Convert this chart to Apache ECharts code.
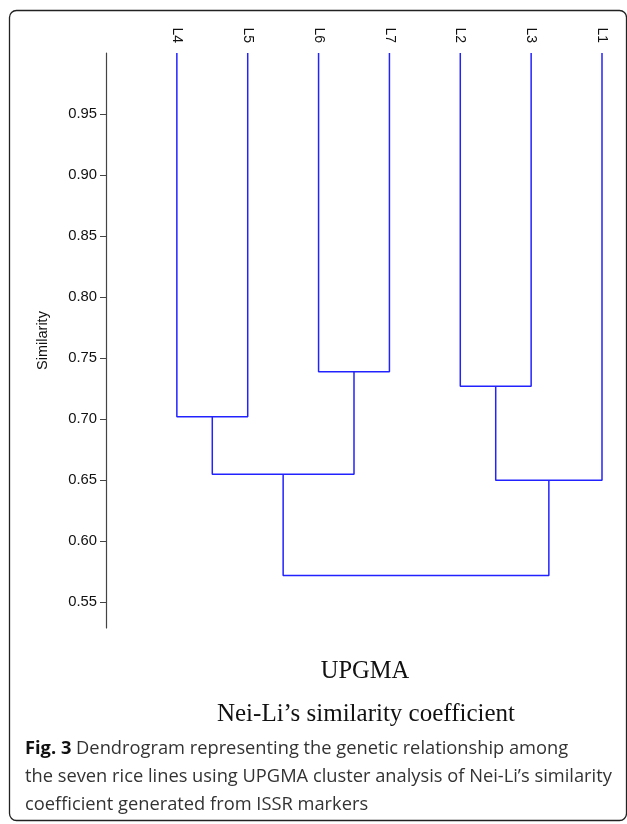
<!DOCTYPE html>
<html>
<head>
<meta charset="utf-8">
<script src="https://cdn.jsdelivr.net/npm/echarts@6/dist/echarts.min.js"></script>
<style>
html,body{margin:0;padding:0;background:#fff;}
#chart{width:627px;height:824px;}
</style>
</head>
<body>
<div id="chart"></div>
<script>
// Leaf order along the dendrogram
const leaves = ['L4', 'L5', 'L6', 'L7', 'L2', 'L3', 'L1'];
const leafSimilarity = 1.0;
// UPGMA merges (left child, right child, resulting node, similarity)
const mergeLeft = ['L4', 'L6', 'L2', 'N1', 'N3', 'N4'];
const mergeRight = ['L5', 'L7', 'L3', 'N2', 'L1', 'N5'];
const mergeNames = ['N1', 'N2', 'N3', 'N4', 'N5', 'N6'];
const mergeSimilarity = [0.702, 0.739, 0.727, 0.655, 0.650, 0.572];
// Axis ticks
const yTicks = [0.55, 0.60, 0.65, 0.70, 0.75, 0.80, 0.85, 0.90, 0.95];
const yMin = 0.529, yMax = 1.0;

const nodeX = {}, nodeY = {};
leaves.forEach((l, i) => { nodeX[l] = i + 1; nodeY[l] = leafSimilarity; });
const series = [];
mergeNames.forEach((n, i) => {
  const a = mergeLeft[i], b = mergeRight[i], h = mergeSimilarity[i];
  nodeX[n] = (nodeX[a] + nodeX[b]) / 2;
  nodeY[n] = h;
  series.push({
    type: 'line',
    symbol: 'none',
    silent: true,
    animation: false,
    lineStyle: { color: '#2222ff', width: 1.5 },
    data: [[nodeX[a], nodeY[a]], [nodeX[a], h], [nodeX[b], h], [nodeX[b], nodeY[b]]]
  });
});

const chart = echarts.init(document.getElementById('chart'), null, { renderer: 'canvas' });
const capFont = '"Open Sans", sans-serif';
const sansFont = '"Liberation Sans", Arial, sans-serif';
chart.setOption({
  animation: false,
  backgroundColor: '#fff',
  grid: { left: 106, right: 25, top: 53, bottom: 196 },
  xAxis: {
    type: 'value', position: 'top', min: 0, max: 7, interval: 1,
    axisLine: { show: false }, axisTick: { show: false }, splitLine: { show: false },
    axisLabel: {
      rotate: 90, margin: 10, color: '#111', fontSize: 14, fontFamily: sansFont,
      formatter: v => leaves[v - 1] || ''
    }
  },
  yAxis: {
    type: 'value', min: yMin, max: yMax,
    name: 'Similarity', nameLocation: 'middle', nameRotate: 90, nameGap: 56,
    nameTextStyle: { color: '#111', fontSize: 14.5, fontFamily: sansFont },
    axisLine: { show: true, lineStyle: { color: '#444', width: 1.2 } },
    axisTick: { show: true, length: 6, customValues: yTicks, lineStyle: { color: '#444' } },
    axisLabel: {
      customValues: yTicks, margin: 9, color: '#111', fontSize: 14.8,
      fontFamily: sansFont,
      formatter: v => Number(v).toFixed(2)
    },
    splitLine: { show: false }
  },
  series: series,
  graphic: [
    { type: 'rect', silent: true, z: 100,
      shape: { x: 9.5, y: 10.5, width: 617, height: 810, r: 7 },
      style: { fill: 'none', stroke: '#222', lineWidth: 1.3 } },
    { type: 'text', x: 365, y: 672, silent: true,
      style: { text: 'UPGMA', font: '24.5px "Liberation Serif", serif', fill: '#111', textAlign: 'center', textVerticalAlign: 'middle' } },
    { type: 'text', x: 366, y: 714, silent: true,
      style: { text: 'Nei-Li\u2019s similarity coefficient', font: '25px "Liberation Serif", serif', fill: '#111', textAlign: 'center', textVerticalAlign: 'middle' } },
    { type: 'text', x: 25, y: 749, silent: true,
      style: {
        text: '{b|Fig. 3} Dendrogram representing the genetic relationship among',
        font: '18.3px ' + capFont, fill: '#333', textVerticalAlign: 'middle',
        rich: { b: { fontWeight: 'bold', fontSize: 18.3, fontFamily: capFont, fill: '#111' } }
      } },
    { type: 'text', x: 25, y: 777, silent: true,
      style: { text: 'the seven rice lines using UPGMA cluster analysis of Nei-Li\u2019s similarity',
        font: '18.3px ' + capFont, fill: '#333', textVerticalAlign: 'middle' } },
    { type: 'text', x: 25, y: 805, silent: true,
      style: { text: 'coefficient generated from ISSR markers',
        font: '18.3px ' + capFont, fill: '#333', textVerticalAlign: 'middle' } }
  ]
});
</script>
</body>
</html>
